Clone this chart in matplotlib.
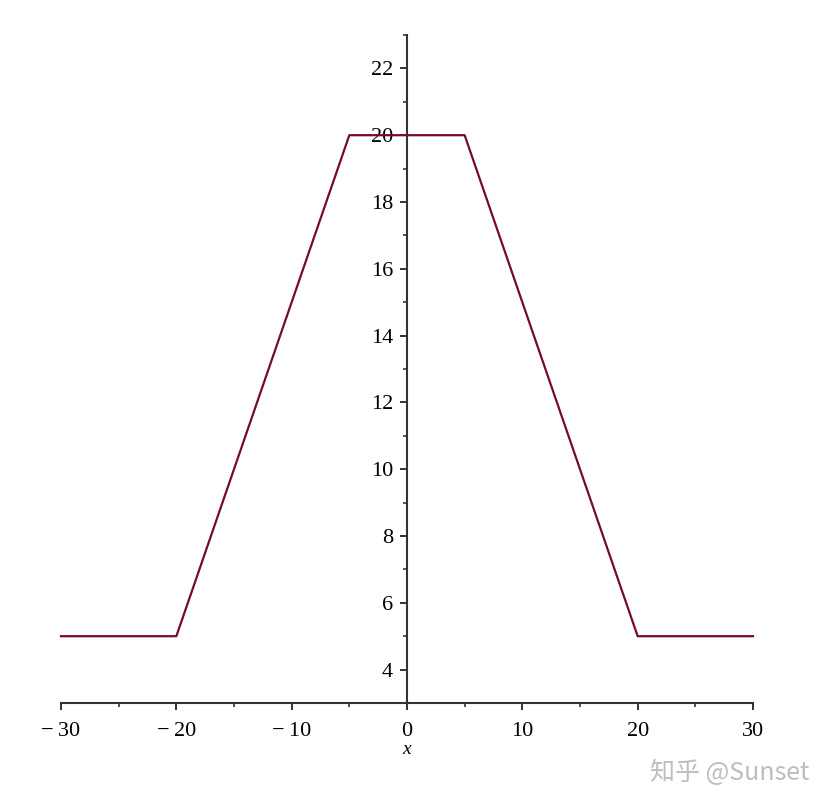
import matplotlib
matplotlib.use("Agg")
import matplotlib.pyplot as plt
from matplotlib.ticker import MultipleLocator, FuncFormatter

# piecewise linear profile (corner points)
x = [-30, -20, -5, 5, 20, 30]
y = [5, 5, 20, 20, 5, 5]

x_ticks = [-30, -20, -10, 0, 10, 20, 30]
y_ticks = [4, 6, 8, 10, 12, 14, 16, 18, 20, 22]

plt.rcParams['font.family'] = ['Liberation Serif', 'DejaVu Serif']

fig = plt.figure(figsize=(8.31, 8.06), dpi=100)
ax = fig.add_axes([61 / 831, 103 / 806, 692 / 831, 668 / 806])

ax.plot(x, y, color='#780A28', linewidth=1.6, clip_on=False)

ax.set_xlim(-30, 30)
ax.set_ylim(3, 23)

for side in ['top', 'right']:
    ax.spines[side].set_visible(False)
ax.spines['left'].set_position(('data', 0))
ax.spines['bottom'].set_position(('data', 3))
for side in ['left', 'bottom']:
    ax.spines[side].set_color('#333333')
    ax.spines[side].set_linewidth(1.5)

def fmt(v, pos):
    v = int(round(v))
    if v < 0:
        return '\u2212\u2009' + str(-v)
    return str(v)

ax.set_xticks(x_ticks)
ax.set_yticks(y_ticks)
ax.xaxis.set_minor_locator(MultipleLocator(5))
ax.yaxis.set_minor_locator(MultipleLocator(1))
ax.xaxis.set_major_formatter(FuncFormatter(fmt))
ax.yaxis.set_major_formatter(FuncFormatter(fmt))
ax.tick_params(which='major', direction='out', length=5, width=1.3,
               labelsize=16, color='#222222')
ax.tick_params(which='minor', direction='out', length=3, width=1.1,
               color='#222222')
ax.tick_params(axis='x', which='major', pad=9)
ax.tick_params(axis='y', which='major', pad=5)

ax.text(0, -0.07, 'x', transform=ax.get_xaxis_transform(), ha='center',
        va='center', fontsize=14, style='italic')

fig.text(730 / 831, 1 - 773 / 806, '知乎 @Sunset', ha='center', va='center',
         fontsize=18, color='#bdbdbd',
         family=['Noto Sans CJK SC', 'DejaVu Sans'])

fig.savefig('out.png', dpi=100)
